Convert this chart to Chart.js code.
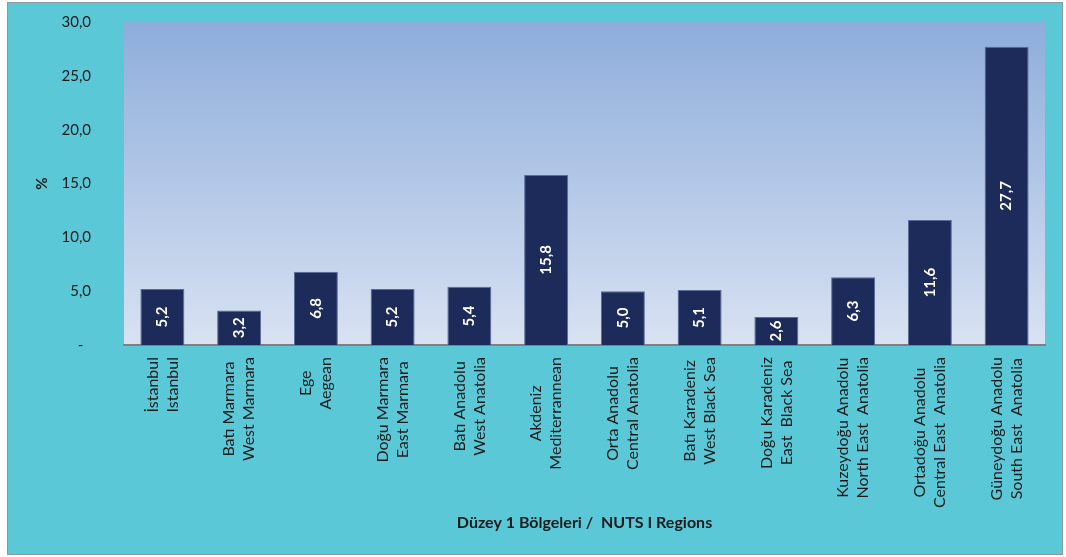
<!DOCTYPE html>
<html>
<head>
<meta charset="utf-8">
<script src="https://cdn.jsdelivr.net/npm/chart.js@4"></script>
<style>
  body { margin: 0; background: #fff; }
  #wrap { width: 1066px; height: 557px; }
</style>
</head>
<body>
<div id="wrap"><canvas id="myChart" width="1066" height="557"></canvas></div>
<script>
const regionsTr = ['İstanbul', 'Batı Marmara', 'Ege', 'Doğu Marmara', 'Batı Anadolu', 'Akdeniz',
  'Orta Anadolu', 'Batı Karadeniz', 'Doğu Karadeniz', 'Kuzeydoğu Anadolu', 'Ortadoğu Anadolu', 'Güneydoğu Anadolu'];
const regionsEn = ['Istanbul', 'West Marmara', 'Aegean', 'East Marmara', 'West Anatolia', 'Mediterrannean',
  'Central Anatolia', 'West Black Sea', 'East  Black Sea', 'North East  Anatolia', 'Central East  Anatolia', 'South East  Anatolia'];
const values = [5.2, 3.2, 6.8, 5.2, 5.4, 15.8, 5.0, 5.1, 2.6, 6.3, 11.6, 27.7];
const yTicks = [0, 5, 10, 15, 20, 25, 30];

const fmt = v => v.toFixed(1).replace('.', ',');

Chart.defaults.font.family = 'Lato';
Chart.defaults.color = '#1a1a1a';

const backdrop = {
  id: 'backdrop',
  beforeDraw(chart) {
    const c = chart.ctx, a = chart.chartArea;
    c.save();
    c.fillStyle = '#ffffff';
    c.fillRect(0, 0, chart.width, chart.height);
    c.fillStyle = '#5bc8d8';
    c.fillRect(7.5, 2.5, 1055, 552);
    c.strokeStyle = '#8a9a9e';
    c.lineWidth = 1;
    c.strokeRect(7.5, 2.5, 1055, 552);
    const g = c.createLinearGradient(0, a.top, 0, a.bottom);
    g.addColorStop(0, '#8eaddb');
    g.addColorStop(1, '#d8e2f2');
    c.fillStyle = g;
    c.fillRect(a.left, a.top, a.right - a.left, a.bottom - a.top);
    c.restore();
  }
};

const labelsPlugin = {
  id: 'labelsPlugin',
  afterDraw(chart) {
    const c = chart.ctx;
    const xs = chart.scales.x;
    const meta = chart.getDatasetMeta(0);
    c.save();
    // values inside bars
    c.font = 'bold 15px Lato';
    c.fillStyle = '#ffffff';
    c.textAlign = 'center';
    c.textBaseline = 'middle';
    meta.data.forEach((bar, i) => {
      const mid = (bar.y + bar.base) / 2;
      c.save();
      c.translate(bar.x, mid);
      c.rotate(-Math.PI / 2);
      c.fillText(fmt(values[i]), 0, 0);
      c.restore();
    });
    // two-line category labels
    c.font = '16px Lato';
    c.fillStyle = '#1a1a1a';
    const top = xs.top + 12;
    regionsTr.forEach((tr, i) => {
      const x = xs.getPixelForValue(i);
      const w = Math.max(c.measureText(tr).width, c.measureText(regionsEn[i]).width);
      const cy = top + w / 2;
      [[tr, -10], [regionsEn[i], 10]].forEach(([t, dx]) => {
        c.save();
        c.translate(x + dx, cy);
        c.rotate(-Math.PI / 2);
        c.fillText(t, 0, 0);
        c.restore();
      });
    });
    c.restore();
  }
};

const ctx = document.getElementById('myChart').getContext('2d');
const chart = new Chart(ctx, {
  type: 'bar',
  data: {
    labels: regionsTr.map((t, i) => [t, regionsEn[i]]),
    datasets: [{
      data: values,
      backgroundColor: '#1c2b5a',
      borderColor: '#5a6b98',
      borderWidth: 1,
      barPercentage: 0.573,
      categoryPercentage: 1
    }]
  },
  options: {
    responsive: false,
    animation: false,
    layout: { padding: { left: 0, top: 22, right: 21, bottom: 0 } },
    plugins: { legend: { display: false }, tooltip: { enabled: false } },
    scales: {
      x: {
        grid: { display: false, drawTicks: false },
        border: { display: true, color: '#808080', width: 2 },
        ticks: { display: false },
        title: {
          display: true,
          text: 'Düzey 1 Bölgeleri /  NUTS I Regions',
          font: { size: 16, weight: 'bold' },
          padding: { top: 0, bottom: 25 }
        },
        afterFit(s) { s.height = 212; s.paddingLeft = 0; s.paddingRight = 0; }
      },
      y: {
        min: 0,
        max: 30,
        grid: { display: false, drawTicks: false },
        border: { display: false },
        afterBuildTicks(s) { s.ticks = yTicks.map(v => ({ value: v })); },
        ticks: {
          padding: 33,
          font: { size: 15 },
          callback: v => v === 0 ? '-  ' : fmt(v)
        },
        title: {
          display: true,
          text: '%',
          font: { size: 15, weight: 'bold' },
          padding: { top: 33, bottom: 0 }
        },
        afterFit(s) { s.width = 124; s.paddingTop = 0; s.paddingBottom = 0; }
      }
    }
  },
  plugins: [backdrop, labelsPlugin]
});
</script>
</body>
</html>
